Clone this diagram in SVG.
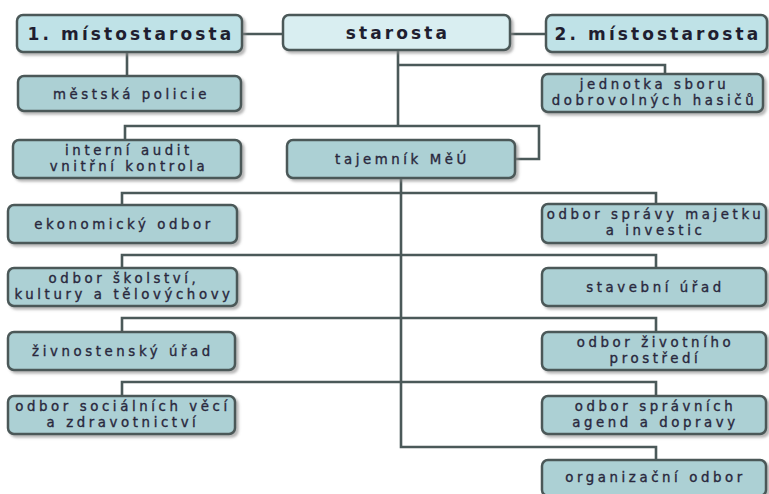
<svg xmlns="http://www.w3.org/2000/svg" width="769" height="494" viewBox="0 0 769 494">
<defs>
<filter id="sh" x="-5%" y="-20%" width="115%" height="160%">
<feDropShadow dx="2.5" dy="2.5" stdDeviation="1.2" flood-color="#888" flood-opacity="0.6"/>
</filter>
</defs>
<style>
.b{fill:#acd0d4;stroke:#4b5959;stroke-width:2.5;filter:url(#sh)}
.h{fill:#bfe2e7}
.s{fill:#d9eef1}
.t{font-family:"DejaVu Sans",Verdana,sans-serif;font-size:13.3px;letter-spacing:3.6px;fill:#29283d;stroke:#29283d;stroke-width:0.35;text-anchor:middle}
.tb{font-family:"DejaVu Sans",Verdana,sans-serif;font-size:17px;font-weight:bold;letter-spacing:3.1px;fill:#1f1e30;text-anchor:middle}
.c{fill:none;stroke:#4b5959;stroke-width:2.6}
</style>
<rect width="769" height="494" fill="#fff"/>
<g id="connectors">
<path class="c" d="M242,34 H283"/>
<path class="c" d="M510,34 H546"/>
<path class="c" d="M127,52 V76"/>
<path class="c" d="M398,50 V126"/>
<path class="c" d="M398,65 H665 V74"/>
<path class="c" d="M125,140 V126 H539 V159 H515"/>
<path class="c" d="M401,178 V447 H656 V460"/>
<path class="c" d="M122,205 V193 H656 V204"/>
<path class="c" d="M122,268 V255 H656 V268"/>
<path class="c" d="M122,332 V318 H656 V332"/>
<path class="c" d="M122,396 V382 H656 V396"/>
</g>
<g id="mistostarosta1"><rect class="b h" x="17" y="15" width="225" height="37" rx="6"/><text class="tb" x="131" y="40">1. místostarosta</text></g>
<g id="starosta"><rect class="b s" x="283" y="15" width="227" height="35" rx="6"/><text class="tb" x="398" y="39">starosta</text></g>
<g id="mistostarosta2"><rect class="b h" x="546" y="15" width="221" height="37" rx="6"/><text class="tb" x="658" y="40">2. místostarosta</text></g>
<g id="policie"><rect class="b" x="18" y="76" width="223" height="35" rx="6"/><text class="t" x="131.5" y="98.5">městská policie</text></g>
<g id="hasici"><rect class="b" x="542" y="74" width="221" height="38" rx="6"/><text class="t"><tspan x="654.5" y="89">jednotka sboru</tspan><tspan x="654.5" dy="15.5">dobrovolných hasičů</tspan></text></g>
<g id="audit"><rect class="b" x="13" y="140" width="228" height="38" rx="6"/><text class="t"><tspan x="129" y="155">interní audit</tspan><tspan x="129" dy="15.5">vnitřní kontrola</tspan></text></g>
<g id="tajemnik"><rect class="b" x="287" y="140" width="228" height="38" rx="6"/><text class="t" x="402.5" y="164">tajemník MěÚ</text></g>
<g id="ekonomicky"><rect class="b" x="8" y="205" width="229" height="38" rx="6"/><text class="t" x="124" y="229">ekonomický odbor</text></g>
<g id="skolstvi"><rect class="b" x="8" y="268" width="229" height="38" rx="6"/><text class="t"><tspan x="124" y="283">odbor školství,</tspan><tspan x="124" dy="15.5">kultury a tělovýchovy</tspan></text></g>
<g id="zivnostensky"><rect class="b" x="8" y="332" width="227" height="38" rx="6"/><text class="t" x="123" y="356">živnostenský úřad</text></g>
<g id="socialni"><rect class="b" x="8" y="396" width="227" height="38" rx="6"/><text class="t"><tspan x="123" y="411">odbor sociálních věcí</tspan><tspan x="123" dy="15.5">a zdravotnictví</tspan></text></g>
<g id="majetek"><rect class="b" x="542" y="204" width="224" height="39" rx="6"/><text class="t"><tspan x="655.5" y="219">odbor správy majetku</tspan><tspan x="655.5" dy="15.5">a investic</tspan></text></g>
<g id="stavebni"><rect class="b" x="542" y="268" width="224" height="38" rx="6"/><text class="t" x="655.5" y="292">stavební úřad</text></g>
<g id="zivotni"><rect class="b" x="542" y="332" width="224" height="38" rx="6"/><text class="t"><tspan x="655.5" y="347">odbor životního</tspan><tspan x="655.5" dy="15.5">prostředí</tspan></text></g>
<g id="spravni"><rect class="b" x="542" y="396" width="224" height="38" rx="6"/><text class="t"><tspan x="655.5" y="411">odbor správních</tspan><tspan x="655.5" dy="15.5">agend a dopravy</tspan></text></g>
<g id="organizacni"><rect class="b" x="542" y="460" width="224" height="36" rx="6"/><text class="t" x="655.5" y="482">organizační odbor</text></g>
</svg>
